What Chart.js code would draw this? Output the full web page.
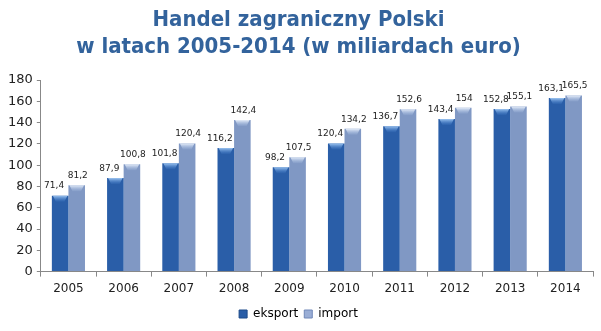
<!DOCTYPE html>
<html>
<head>
<meta charset="utf-8">
<script src="https://cdn.jsdelivr.net/npm/chart.js@4.4.0/dist/chart.umd.min.js"></script>
<style>
  html, body { margin: 0; padding: 0; background: #fff; }
  #wrap { width: 601px; height: 331px; }
</style>
</head>
<body>
<div id="wrap"><canvas id="tradeChart" width="601" height="331"></canvas></div>
<script>
// ---- dane ----
const years = ['2005', '2006', '2007', '2008', '2009', '2010', '2011', '2012', '2013', '2014'];
const eksport = [71.4, 87.9, 101.8, 116.2, 98.2, 120.4, 136.7, 143.4, 152.8, 163.1];
const importVals = [81.2, 100.8, 120.4, 142.4, 107.5, 134.2, 152.6, 154, 155.1, 165.5];
const yTicks = [0, 20, 40, 60, 80, 100, 120, 140, 160, 180];

const FONT = "'DejaVu Sans', Verdana, sans-serif";
const TITLE_FONT = "'DejaVu Sans Condensed', 'DejaVu Sans', sans-serif";

// gradient poziomy dla każdego słupka (efekt walca)
function barGradient(ctx, dark, mid, light) {
    const el = ctx.element;
    if (!el || !el.width) return mid;
    const c = ctx.chart.ctx;
    const x0 = el.x - el.width / 2, x1 = el.x + el.width / 2;
    const g = c.createLinearGradient(x0, 0, x1, 0);
    g.addColorStop(0, dark);
    g.addColorStop(0.45, light);
    g.addColorStop(1, mid);
    return g;
}

// jasna "czapka" na górze słupka
const capPlugin = {
    id: 'caps',
    afterDatasetsDraw(chart) {
        const c = chart.ctx;
        chart.data.datasets.forEach((ds, di) => {
            chart.getDatasetMeta(di).data.forEach(bar => {
                const w = bar.width, x = bar.x - w / 2, y = bar.y;
                const g = c.createLinearGradient(0, y, 0, y + 7);
                g.addColorStop(0, di === 0 ? '#9cc4f0' : '#e4ecf8');
                g.addColorStop(1, di === 0 ? 'rgba(60,120,200,0)' : 'rgba(160,185,225,0)');
                c.save();
                c.fillStyle = g;
                c.beginPath();
                c.moveTo(x + 1, y);
                c.lineTo(x + w - 1, y);
                c.lineTo(x + w - 4, y + 6);
                c.lineTo(x + 4, y + 6);
                c.closePath();
                c.fill();
                c.restore();
            });
        });
    }
};

// etykiety z wartościami nad słupkami
const valueLabels = {
    id: 'valueLabels',
    afterDatasetsDraw(chart) {
        const c = chart.ctx;
        c.save();
        c.font = '9px ' + FONT;
        c.fillStyle = '#222';
        c.textAlign = 'center';
        c.textBaseline = 'bottom';
        chart.data.datasets.forEach((ds, di) => {
            chart.getDatasetMeta(di).data.forEach((bar, i) => {
                const txt = String(ds.data[i]).replace('.', ',');
                const dx = di === 0 ? -6 : 1;
                c.fillText(txt, bar.x + dx, bar.y - 5);
            });
        });
        c.restore();
    }
};

new Chart(document.getElementById('tradeChart'), {
    type: 'bar',
    data: {
        labels: years,
        datasets: [
            {
                label: 'eksport',
                data: eksport,
                backgroundColor: ctx => barGradient(ctx, '#17427f', '#2a5ea8', '#3f7fd0'),
                borderWidth: 0,
                categoryPercentage: 0.6,
                barPercentage: 1.0
            },
            {
                label: 'import',
                data: importVals,
                backgroundColor: ctx => barGradient(ctx, '#6b84b4', '#8098c4', '#a9bde0'),
                borderWidth: 0,
                categoryPercentage: 0.6,
                barPercentage: 1.0
            }
        ]
    },
    options: {
        responsive: false,
        animation: false,
        layout: { padding: { left: 4, right: 8, top: 0, bottom: 1 } },
        plugins: {
            title: {
                display: true,
                text: ['Handel zagraniczny Polski', 'w latach 2005-2014 (w miliardach euro)'],
                color: '#33639c',
                font: { family: TITLE_FONT, size: 22, weight: 'bold', lineHeight: 1.23 },
                padding: { top: 7, bottom: 19 }
            },
            legend: {
                position: 'bottom',
                labels: {
                    color: '#222',
                    font: { family: FONT, size: 12 },
                    boxWidth: 8,
                    boxHeight: 8,
                    padding: 6,
                    generateLabels(chart) {
                        return [
                            { text: 'eksport', fillStyle: '#2a5ea8', strokeStyle: '#1d4a8a', lineWidth: 1, datasetIndex: 0 },
                            { text: 'import', fillStyle: '#9aaed6', strokeStyle: '#7088b8', lineWidth: 1, datasetIndex: 1 }
                        ];
                    }
                }
            },
            tooltip: { enabled: false }
        },
        scales: {
            x: {
                grid: { display: true, drawOnChartArea: false, drawTicks: true, tickLength: 5, offset: true, color: '#888' },
                border: { display: true, color: '#888' },
                ticks: { color: '#222', font: { family: FONT, size: 12 }, padding: 5.5 }
            },
            y: {
                min: 0,
                max: 180,
                afterBuildTicks(axis) { axis.ticks = yTicks.map(v => ({ value: v })); },
                grid: { display: true, drawOnChartArea: false, drawTicks: true, tickLength: 4, color: '#888' },
                border: { display: true, color: '#888' },
                ticks: { color: '#222', font: { family: FONT, size: 13 }, padding: 4 }
            }
        }
    },
    plugins: [capPlugin, valueLabels]
});
</script>
</body>
</html>
